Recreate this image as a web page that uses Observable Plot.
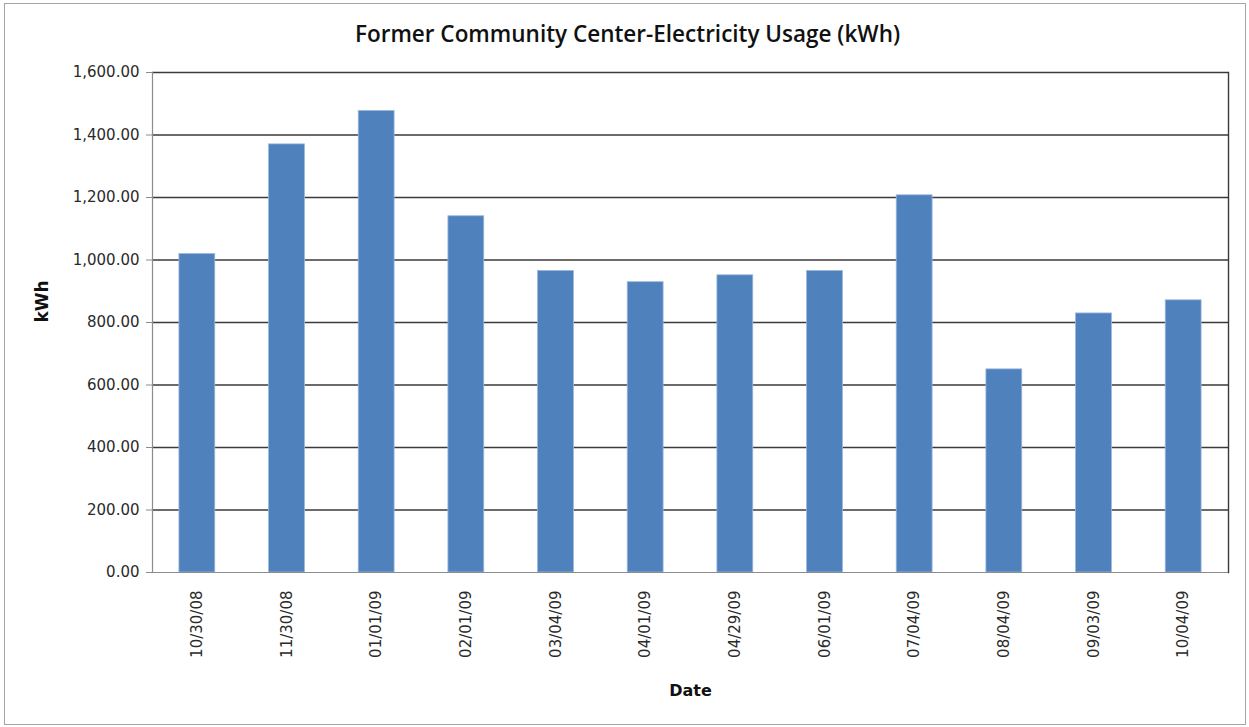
<!DOCTYPE html>
<html>
<head>
<meta charset="utf-8">
<script src="https://cdn.jsdelivr.net/npm/d3@7"></script>
<script src="https://cdn.jsdelivr.net/npm/@observablehq/plot@0.6"></script>
<style>
  html, body { margin: 0; padding: 0; background: #fff; }
  #wrap { position: relative; width: 1249px; height: 727px; }
  #border { position: absolute; left: 4px; top: 3px; width: 1240px; height: 720px;
            border: 1.5px solid #a6a6a6; pointer-events: none; }
</style>
</head>
<body>
<div id="wrap"><div id="border"></div></div>
<script>
const dates = ["10/30/08","11/30/08","01/01/09","02/01/09","03/04/09","04/01/09",
               "04/29/09","06/01/09","07/04/09","08/04/09","09/03/09","10/04/09"];
const kwh = [1019, 1370, 1477, 1140, 965, 929, 951, 965, 1207, 650, 829, 871];
const yTicks = [0, 200, 400, 600, 800, 1000, 1200, 1400, 1600];
const title = "Former Community Center-Electricity Usage (kWh)";
const xLabel = "Date";
const yLabel = "kWh";

const data = dates.map((d, i) => ({date: d, value: kwh[i]}));
const FONT = "DejaVu Sans, sans-serif";

const chart = Plot.plot({
  width: 1249,
  height: 727,
  marginLeft: 152,
  marginRight: 21,
  marginTop: 72,
  marginBottom: 155,
  style: {fontFamily: FONT, background: "transparent", color: "#2a2a2a"},
  x: {type: "band", domain: dates, paddingInner: 0.6, paddingOuter: 0.3, round: false, label: null},
  y: {domain: [0, 1600], label: null},
  marks: [
    Plot.ruleY(yTicks.filter(d => d > 0), {stroke: "#3a3a3a", strokeWidth: 1.4}),
    Plot.barY(data, {x: "date", y: "value", fill: "#4F81BD", stroke: "#9bb9de", strokeWidth: 0.8}),
    Plot.frame({anchor: "right", stroke: "#3a3a3a", strokeWidth: 1.4}),
    Plot.frame({anchor: "left", stroke: "#8c8c8c", strokeWidth: 1.2}),
    Plot.ruleY([0], {stroke: "#8c8c8c", strokeWidth: 1.2}),
    Plot.axisY({ticks: yTicks, tickFormat: d3.format(",.2f"), tickSize: 6, tickPadding: 7,
                fontSize: 15, fontFamily: FONT, stroke: "#8c8c8c", label: null}),
    Plot.axisX({tickRotate: -90, tickSize: 0, tickPadding: 18, fontSize: 15, fontFamily: FONT, label: null}),
    Plot.text([title], {frameAnchor: "top", lineAnchor: "middle", dx: -63, dy: -38, fontFamily: "Open Sans",
                        fontWeight: 600, fontSize: 22.5, fill: "#111"}),
    Plot.text([xLabel], {frameAnchor: "bottom", dy: 123, fontFamily: FONT, fontWeight: "bold", fontSize: 16, fill: "#111"}),
    Plot.text([yLabel], {frameAnchor: "left", dx: -110, rotate: -90, fontFamily: FONT, fontWeight: "bold", fontSize: 17, fill: "#111"})
  ]
});
document.getElementById("wrap").prepend(chart);
</script>
</body>
</html>
